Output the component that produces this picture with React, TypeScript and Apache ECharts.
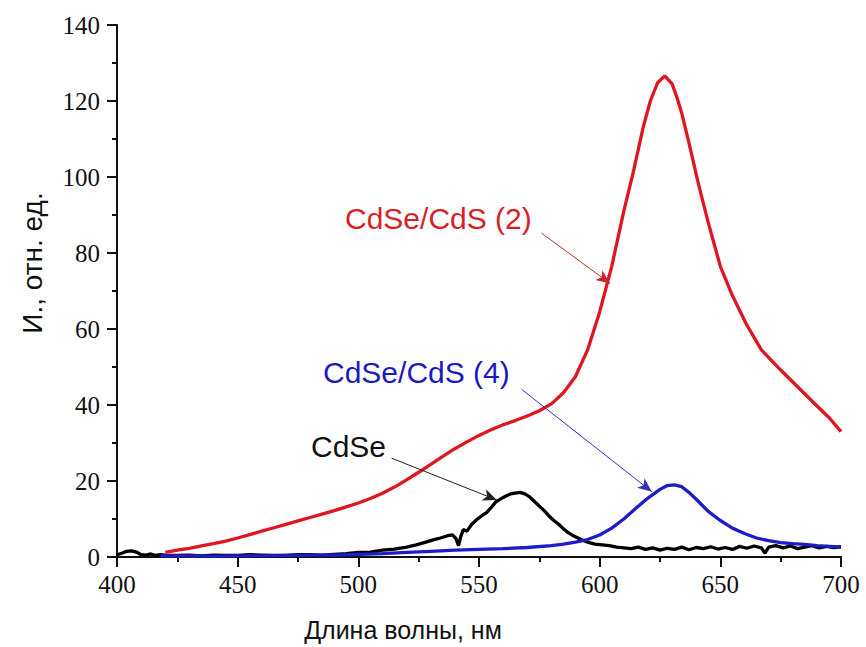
import React, { useEffect, useRef } from "react";
import * as echarts from "echarts";

// Wavelength (nm) / intensity (arb. units) pairs
const cdse: [number, number][] = [
  [400, 0.6], [402, 1.0], [404, 1.5], [406, 1.6], [408, 1.3], [410, 0.6], [412, 0.5], [414, 0.8],
  [416, 0.4], [418, 0.6], [420, 0.5], [425, 0.4], [430, 0.5], [435, 0.3], [440, 0.5], [445, 0.4],
  [450, 0.4], [455, 0.6], [460, 0.5], [465, 0.4], [470, 0.4], [475, 0.6], [480, 0.6], [485, 0.5],
  [490, 0.7], [495, 0.9], [500, 1.2], [505, 1.3], [510, 1.8], [515, 2.1], [520, 2.6], [524, 3.2],
  [528, 3.9], [531, 4.5], [534, 5.0], [537, 5.6], [539, 5.8], [540.5, 4.8], [541.5, 3.0], [542.5, 5.5],
  [543.5, 7.2], [545, 6.8], [547, 8.6], [549, 9.8], [551, 10.8], [553, 11.6], [555, 13.0], [557, 14.5],
  [559, 15.3], [561, 16.0], [563, 16.6], [565, 16.8], [567, 17.0], [569, 16.6], [571, 15.8], [573, 14.6],
  [575, 13.4], [577, 12.2], [579, 10.8], [581, 9.6], [583, 8.6], [585, 7.4], [587, 6.4], [589, 5.6],
  [591, 5.0], [593, 4.4], [595, 3.9], [598, 3.4], [601, 3.2], [604, 3.0], [607, 2.6], [610, 2.4],
  [613, 2.2], [616, 2.6], [619, 2.0], [622, 2.4], [625, 1.8], [628, 2.3], [631, 2.0], [634, 2.6],
  [637, 1.9], [640, 2.5], [643, 2.2], [646, 2.7], [649, 2.1], [652, 2.5], [655, 2.0], [658, 2.8],
  [661, 2.3], [664, 2.9], [667, 2.4], [668.5, 1.0], [670, 2.6], [673, 3.0], [676, 2.4], [679, 2.9],
  [682, 2.2], [685, 2.6], [688, 3.0], [691, 2.4], [694, 2.8], [697, 2.5], [700, 2.7],
];

const cdseCds4: [number, number][] = [
  [418, 0.3], [420, 0.3], [430, 0.3], [440, 0.2], [450, 0.3], [460, 0.3], [470, 0.4], [480, 0.5],
  [490, 0.5], [500, 0.7], [510, 0.9], [520, 1.2], [530, 1.5], [540, 1.8], [550, 2.0], [560, 2.2],
  [570, 2.5], [580, 3.0], [585, 3.4], [590, 3.9], [595, 4.6], [600, 5.8], [605, 7.6], [610, 10.0],
  [615, 12.8], [620, 15.5], [625, 17.8], [628, 18.8], [631, 19.0], [634, 18.5], [637, 17.0], [640, 15.2],
  [645, 12.0], [650, 9.6], [655, 7.6], [660, 6.2], [665, 5.0], [670, 4.3], [675, 3.8], [680, 3.5],
  [685, 3.3], [690, 3.0], [695, 2.8], [700, 2.6],
];

const cdseCds2: [number, number][] = [
  [420, 1.2], [425, 1.8], [430, 2.3], [435, 2.9], [440, 3.5], [445, 4.2], [450, 5.0], [455, 5.9],
  [460, 6.8], [465, 7.7], [470, 8.6], [475, 9.5], [480, 10.4], [485, 11.3], [490, 12.2], [495, 13.2],
  [500, 14.2], [505, 15.4], [510, 16.8], [515, 18.4], [520, 20.3], [525, 22.3], [530, 24.4], [535, 26.5],
  [540, 28.5], [545, 30.3], [550, 32.0], [555, 33.5], [560, 34.8], [565, 35.9], [570, 37.1], [575, 38.5],
  [580, 40.3], [585, 43.2], [590, 47.5], [595, 54.5], [600, 64.5], [605, 76.5], [610, 91.0], [614, 101.5],
  [618, 113.0], [621, 120.0], [624, 124.8], [627, 126.6], [630, 124.5], [632, 121.0], [634, 116.8], [637, 109.0],
  [641, 98.0], [645, 88.0], [650, 76.5], [655, 68.8], [661, 61.0], [667, 54.5], [675, 49.2], [682, 44.8],
  [688, 41.0], [695, 36.7], [700, 33.0],
];

const xTicks = { min: 400, max: 700, interval: 50 };
const yTicks = { min: 0, max: 140, interval: 20 };

const labelCdSe = "CdSe";
const labelCds2 = "CdSe/CdS (2)";
const labelCds4 = "CdSe/CdS (4)";
const xTitle = "Длина волны, нм";
const yTitle = "И., отн. ед.";

const RED = "#e0161e";
const BLUE = "#1c1cc8";
const BLACK = "#000000";

export default function App() {
  const ref = useRef<HTMLDivElement>(null);

  useEffect(() => {
    document.body.style.margin = "0";
    if (!ref.current) return;
    const chart = echarts.init(ref.current, null, { renderer: "svg" });

    const serif = '"Liberation Serif", "Times New Roman", serif';
    const sans = '"Liberation Sans", Arial, sans-serif';

    const arrowLine = (from: [number, number], to: [number, number], color: string) => ({
      silent: true,
      symbol: ["none", "arrow"],
      symbolSize: [9, 14],
      label: { show: false },
      lineStyle: { color, width: 1, type: "solid" },
      itemStyle: { color },
      data: [[{ coord: from }, { coord: to }]],
    });

    chart.setOption({
      animation: false,
      backgroundColor: "#ffffff",
      grid: { left: 117, top: 25, width: 724, height: 532, containLabel: false },
      xAxis: {
        type: "value",
        min: xTicks.min,
        max: xTicks.max,
        interval: xTicks.interval,
        axisLine: { show: true, onZero: false, lineStyle: { color: "#111", width: 2 } },
        axisTick: { show: true, inside: false, length: 10, lineStyle: { color: "#111", width: 2 } },
        minorTick: { show: true, splitNumber: 2, length: 5, lineStyle: { color: "#111", width: 2 } },
        splitLine: { show: false },
        axisLabel: { fontFamily: serif, fontSize: 25, color: "#111", margin: 15 },
      },
      yAxis: {
        type: "value",
        min: yTicks.min,
        max: yTicks.max,
        interval: yTicks.interval,
        axisLine: { show: true, onZero: false, lineStyle: { color: "#111", width: 2 } },
        axisTick: { show: true, inside: false, length: 10, lineStyle: { color: "#111", width: 2 } },
        minorTick: { show: true, splitNumber: 2, length: 5, lineStyle: { color: "#111", width: 2 } },
        splitLine: { show: false },
        axisLabel: { fontFamily: serif, fontSize: 25, color: "#111", margin: 17 },
      },
      series: [
        {
          name: labelCdSe,
          type: "line",
          data: cdse,
          showSymbol: false,
          lineStyle: { color: BLACK, width: 3.3 },
          itemStyle: { color: BLACK },
          markLine: arrowLine([513.8, 26.0], [557.4, 15.0], "#222222"),
        },
        {
          name: labelCds4,
          type: "line",
          data: cdseCds4,
          showSymbol: false,
          lineStyle: { color: BLUE, width: 3.3 },
          itemStyle: { color: BLUE },
          markLine: arrowLine([567.7, 44.1], [621.6, 17.2], "#3434b4"),
        },
        {
          name: labelCds2,
          type: "line",
          data: cdseCds2,
          showSymbol: false,
          lineStyle: { color: RED, width: 3.3 },
          itemStyle: { color: RED },
          markLine: arrowLine([576.0, 85.2], [604.3, 72.0], "#c62a30"),
        },
      ],
      graphic: [
        {
          type: "text",
          x: 345,
          y: 218,
          style: { text: labelCds2, font: `30px ${sans}`, fill: "#d91f26", align: "left", verticalAlign: "middle" },
        },
        {
          type: "text",
          x: 323,
          y: 372,
          style: { text: labelCds4, font: `30px ${sans}`, fill: "#1a1abe", align: "left", verticalAlign: "middle" },
        },
        {
          type: "text",
          x: 311,
          y: 446,
          style: { text: labelCdSe, font: `30px ${sans}`, fill: "#111", align: "left", verticalAlign: "middle" },
        },
        {
          type: "text",
          x: 403,
          y: 630,
          style: { text: xTitle, font: `25px ${sans}`, fill: "#111", align: "center", verticalAlign: "middle" },
        },
        {
          type: "text",
          x: 32,
          y: 263,
          rotation: Math.PI / 2,
          style: { text: yTitle, font: `28px ${sans}`, fill: "#111", align: "center", verticalAlign: "middle" },
        },
      ],
    });

    return () => chart.dispose();
  }, []);

  return <div ref={ref} style={{ width: 866, height: 647 }} />;
}
